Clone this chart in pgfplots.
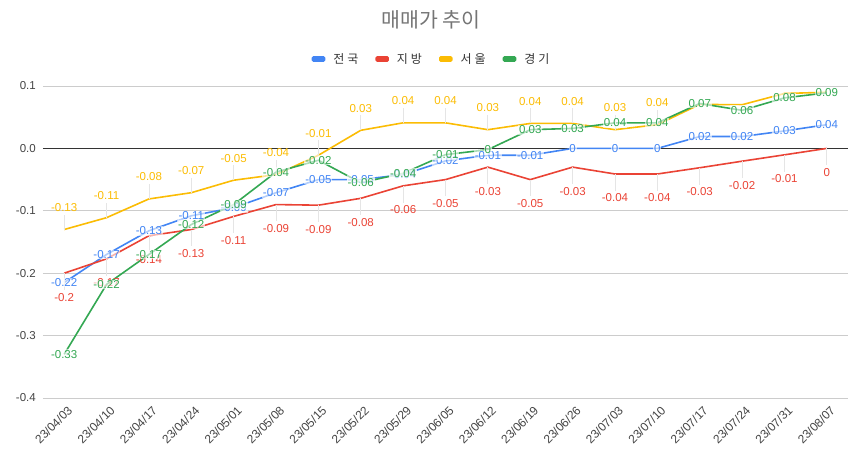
\documentclass[border=0pt]{standalone}
\usepackage{fontspec}
\setmainfont{Liberation Sans}
\newfontfamily\kr{Noto Sans CJK KR}
\usepackage{pgfplots}
\usepackage{pgfplotstable}
\pgfplotsset{compat=1.18}
\definecolor{cblue}{RGB}{66,133,244}
\definecolor{cred}{RGB}{234,67,53}
\definecolor{cyellow}{RGB}{251,188,4}
\definecolor{cgreen}{RGB}{52,168,83}
\definecolor{gridc}{RGB}{204,204,204}
\definecolor{tickc}{RGB}{68,68,68}
\definecolor{titlec}{RGB}{117,117,117}

\pgfplotstableread{
x y lab
0 -0.215 -0.22
1 -0.170 -0.17
2 -0.132 -0.13
3 -0.108 -0.11
4 -0.095 -0.09
5 -0.071 -0.07
6 -0.050 -0.05
7 -0.050 -0.05
8 -0.042 -0.04
9 -0.020 -0.02
10 -0.011 -0.01
11 -0.011 -0.01
12 0.000 0
13 0.000 0
14 0.000 0
15 0.019 0.02
16 0.019 0.02
17 0.028 0.03
18 0.038 0.04
}\tblue

\pgfplotstableread{
x y lab
0 -0.200 -0.2
1 -0.177 -0.17
2 -0.140 -0.14
3 -0.130 -0.13
4 -0.109 -0.11
5 -0.090 -0.09
6 -0.091 -0.09
7 -0.080 -0.08
8 -0.060 -0.06
9 -0.050 -0.05
10 -0.030 -0.03
11 -0.050 -0.05
12 -0.030 -0.03
13 -0.041 -0.04
14 -0.041 -0.04
15 -0.031 -0.03
16 -0.0205 -0.02
17 -0.0103 -0.01
18 0.000 0
}\tred

\pgfplotstableread{
x y lab
0 -0.130 -0.13
1 -0.111 -0.11
2 -0.081 -0.08
3 -0.071 -0.07
4 -0.051 -0.05
5 -0.042 -0.04
6 -0.011 -0.01
7 0.029 0.03
8 0.041 0.04
9 0.041 0.04
10 0.030 0.03
11 0.040 0.04
12 0.040 0.04
13 0.030 0.03
14 0.038 0.04
15 0.0705 0.07
16 0.070 0.07
17 0.088 0.09
18 0.090 0.09
}\tyellow

\pgfplotstableread{
x y lab
0 -0.330 -0.33
1 -0.218 -0.22
2 -0.170 -0.17
3 -0.122 -0.12
4 -0.090 -0.09
5 -0.038 -0.04
6 -0.019 -0.02
7 -0.055 -0.06
8 -0.040 -0.04
9 -0.010 -0.01
10 -0.002 0
11 0.030 0.03
12 0.032 0.03
13 0.041 0.04
14 0.041 0.04
15 0.072 0.07
16 0.061 0.06
17 0.081 0.08
18 0.089 0.09
}\tgreen

\begin{document}
\begin{tikzpicture}
\path[use as bounding box] (0,0) rectangle (856pt,456pt);
\begin{axis}[
  at={(43pt,58pt)}, anchor=south west,
  scale only axis, width=805pt, height=312pt,
  xmin=-0.5, xmax=18.5, ymin=-0.4, ymax=0.1,
  xtick={0,...,18},
  xticklabels={23/04/03,23/04/10,23/04/17,23/04/24,23/05/01,23/05/08,23/05/15,23/05/22,23/05/29,23/06/05,23/06/12,23/06/19,23/06/26,23/07/03,23/07/10,23/07/17,23/07/24,23/07/31,23/08/07},
  ytick={-0.4,-0.3,-0.2,-0.1,0,0.1},
  yticklabels={-0.4,-0.3,-0.2,-0.1,0.0,0.1},
  ymajorgrids,
  major grid style={draw=gridc, line width=0.8pt},
  extra y ticks={0}, extra y tick labels={},
  extra y tick style={grid=major, major grid style={draw=black!80, line width=0.8pt}},
  axis line style={draw=none},
  major tick length=0pt,
  tick label style={font=\fontsize{11.5}{13}\selectfont, text=tickc},
  xticklabel style={rotate=45, anchor=north east, inner sep=1pt, yshift=-6pt, xshift=-2pt, font=\fontsize{12}{14}\selectfont},
  yticklabel style={anchor=east, inner sep=1pt, xshift=-6pt},
  clip=false,
  title={매매가 추이},
  title style={at={(axis description cs:0.482,1.192)}, anchor=center, font=\kr\fontsize{20.5}{23}\selectfont, text=titlec},
  legend style={at={(axis description cs:0.4814,1.0865)}, anchor=center, draw=none, fill=none,
    legend columns=4, font=\kr\fontsize{12}{14}\selectfont, text=black!80,
    nodes={inner sep=0pt},
    /tikz/every odd column/.append style={column sep=8pt},
    /tikz/every even column/.append style={column sep=17pt}},
  legend image code/.code={\fill[#1, rounded corners=1pt] (0pt,-2pt) rectangle (12pt,2pt);},
  every axis plot/.append style={line width=1.6pt, mark=none},
]
\addplot[cblue] table[x=x,y=y] {\tblue};
\addlegendentry{전\hspace{3pt}국}
\addplot[cred] table[x=x,y=y] {\tred};
\addlegendentry{지\hspace{3pt}방}
\addplot[cyellow] table[x=x,y=y] {\tyellow};
\addlegendentry{서\hspace{3pt}울}
\addplot[cgreen] table[x=x,y=y] {\tgreen};
\addlegendentry{경\hspace{3pt}기}

% labels
\addplot[draw=none, forget plot, point meta=explicit symbolic,
  nodes near coords={\pgfplotspointmeta},
  every node near coord/.append style={anchor=center, font=\fontsize{11.5}{13}\selectfont, text=cblue, fill=white, fill opacity=0.6, text opacity=1, inner sep=0.8pt}]
  table[x=x,y=y,meta=lab] {\tblue};
\addplot[draw=none, forget plot, point meta=explicit symbolic,
  nodes near coords={\pgfplotspointmeta},
  every node near coord/.append style={anchor=center, yshift=-24pt, font=\fontsize{11.5}{13}\selectfont, text=cred, inner sep=0.8pt},
  error bars/y dir=minus, error bars/y fixed=0.027, error bars/error mark=none,
  error bars/error bar style={draw=black!10, line width=0.8pt}]
  table[x=x,y=y,meta=lab] {\tred};
\addplot[draw=none, forget plot, point meta=explicit symbolic,
  restrict x to domain=0:14,
  nodes near coords={\pgfplotspointmeta},
  every node near coord/.append style={anchor=center, yshift=22pt, font=\fontsize{11.5}{13}\selectfont, text=cyellow, inner sep=0.8pt},
  error bars/y dir=plus, error bars/y fixed=0.024, error bars/error mark=none,
  error bars/error bar style={draw=black!10, line width=0.8pt}]
  table[x=x,y=y,meta=lab] {\tyellow};
\addplot[draw=none, forget plot, point meta=explicit symbolic,
  nodes near coords={\pgfplotspointmeta},
  every node near coord/.append style={anchor=center, font=\fontsize{11.5}{13}\selectfont, text=cgreen, fill=white, fill opacity=0.6, text opacity=1, inner sep=0.8pt}]
  table[x=x,y=y,meta=lab] {\tgreen};
\end{axis}
\end{tikzpicture}
\end{document}
